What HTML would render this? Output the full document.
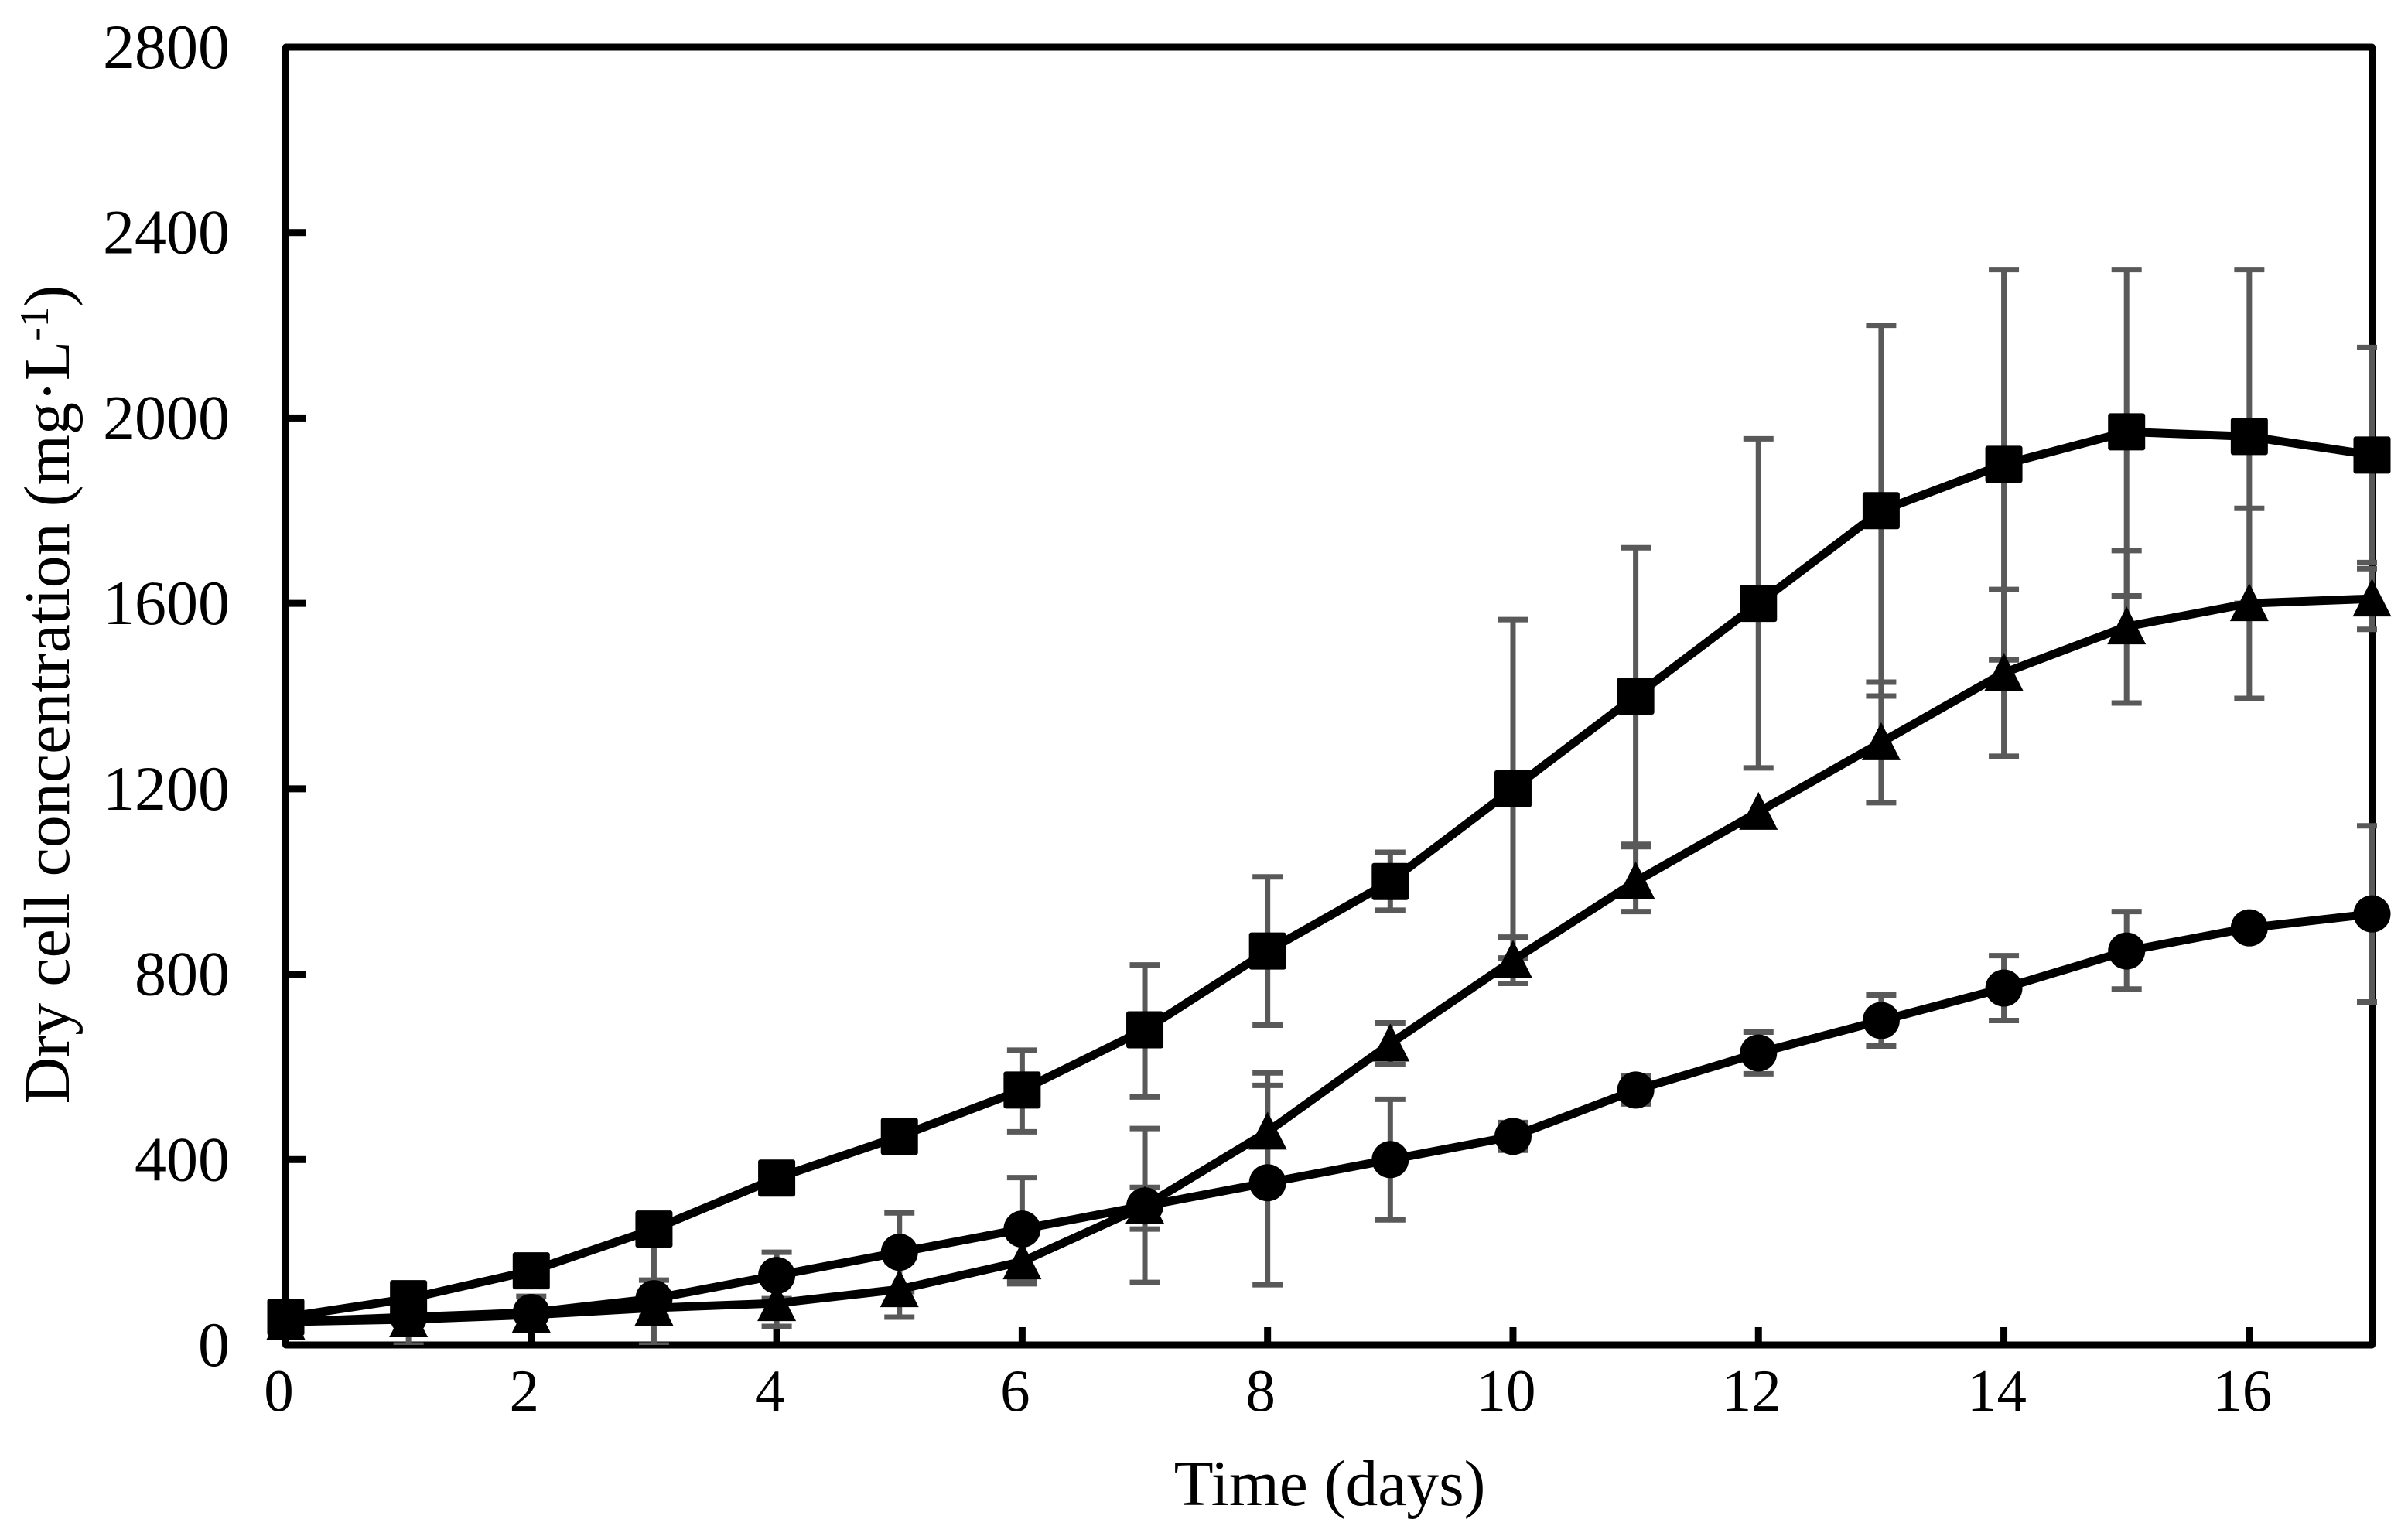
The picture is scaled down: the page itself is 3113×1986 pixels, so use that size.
<!DOCTYPE html>
<html>
<head>
<meta charset="utf-8">
<title>Dry cell concentration over time</title>
<style>
html,body{margin:0;padding:0;background:#fff;}
svg{display:block;}
text{font-family:"Liberation Serif","Times New Roman",serif;fill:#000;}
</style>
</head>
<body>
<svg id="chart" xmlns="http://www.w3.org/2000/svg" width="3113" height="1986" viewBox="0 0 3113 1986">
  <defs>
    <clipPath id="plot-clip"><rect x="300" y="0" width="2773" height="1739"/></clipPath>
  </defs>
  <rect x="0" y="0" width="3113" height="1986" fill="#fff"/>
  <rect x="369.5" y="61" width="2697" height="1678" fill="none" stroke="#000" stroke-width="9" stroke-linejoin="round"/>
  <g id="ticks"></g>
  <g id="tick-labels"></g>
  <g id="errors" clip-path="url(#plot-clip)"></g>
  <g id="series"></g>
  <text x="1719" y="1946" font-size="83.5" text-anchor="middle">Time (days)</text>
  <text transform="translate(89,898) rotate(-90)" font-size="84" text-anchor="middle">Dry cell concentration (mg·L<tspan font-size="53" dy="-27">-1</tspan><tspan dy="27">)</tspan></text>
</svg>
<script>
var days = [0,1,2,3,4,5,6,7,8,9,10,11,12,13,14,15,16,17];
var xTickLabels = [0,2,4,6,8,10,12,14,16];
var yTickLabels = [0,400,800,1200,1600,2000,2400,2800];

var squareValues = [60,100,160,250,360,450,550,680,850,1000,1200,1400,1600,1800,1900,1970,1960,1920];
var squareHigh = [60,100,160,250,360,450,636,820,1010,1063,1565,1720,1955,2200,2320,2320,2320,2152];
var squareLow = [60,0,160,0,360,450,460,535,690,938,835,1080,1245,1400,1478,1616,1600,1688];

var triangleValues = [50,55,65,80,90,120,180,300,460,650,830,1000,1150,1300,1450,1550,1600,1610];
var triangleHigh = [50,55,65,80,140,180,230,340,587,695,880,1075,1150,1430,1630,1714,1805,1675];
var triangleLow = [50,55,65,80,40,60,132,250,333,605,780,935,1150,1170,1270,1385,1395,1544];

var circleValues = [50,60,70,100,150,200,250,300,350,400,450,550,630,700,770,850,900,930];
var circleHigh = [50,60,105,140,200,285,361,467,560,530,480,580,675,755,840,935,900,1120];
var circleLow = [50,60,35,60,100,115,140,135,130,270,420,520,585,645,700,768,900,740];

var SVGNS = 'http://www.w3.org/2000/svg';
var xDomainMax = 17, yDomainMax = 2800;
var plotLeft = 369.5, plotRight = 3066.5, plotTop = 61, plotBottom = 1739;
function xScale(v){ return plotLeft + (v / xDomainMax) * (plotRight - plotLeft); }
function yScale(v){ return plotBottom - (v / yDomainMax) * (plotBottom - plotTop); }
function make(tag, attrs){
  var el = document.createElementNS(SVGNS, tag);
  for (var k in attrs) el.setAttribute(k, attrs[k]);
  return el;
}
var ticksG = document.getElementById('ticks');
var labelsG = document.getElementById('tick-labels');
var errorsG = document.getElementById('errors');
var seriesG = document.getElementById('series');

xTickLabels.forEach(function(v){
  var x = xScale(v);
  var t = make('rect', {x: x - 4.5, y: plotBottom - 23, width: 9, height: 23, fill: '#000'});
  
  
  ticksG.appendChild(t);
  var l = make('text', {x: x - 9, y: 1824, 'font-size': 77, 'text-anchor': 'middle'});
  l.textContent = String(v);
  
  
  labelsG.appendChild(l);
});
yTickLabels.forEach(function(v){
  var y = yScale(v);
  var t = make('rect', {x: plotLeft, y: y - 4.5, width: 26, height: 9, fill: '#000'});
  
  
  ticksG.appendChild(t);
  var l = make('text', {x: 297, y: y + 27, 'font-size': 82, 'text-anchor': 'end'});
  l.textContent = String(v);
  
  
  labelsG.appendChild(l);
});

function drawErrors(name, high, low){
  days.forEach(function(d, i){
    if (high[i] === low[i]) return;
    var x = xScale(d), yh = yScale(high[i]), yl = yScale(low[i]);
    var g = make('g', {stroke: '#595959', 'stroke-width': 7, fill: 'none'});
    
    
    g.appendChild(make('line', {x1: x, x2: x, y1: yh, y2: yl}));
    g.appendChild(make('line', {x1: x - 19.5, x2: x + 19.5, y1: yh, y2: yh}));
    g.appendChild(make('line', {x1: x - 19.5, x2: x + 19.5, y1: yl, y2: yl}));
    errorsG.appendChild(g);
  });
}
function drawLine(name, values){
  var pts = days.map(function(d, i){ return xScale(d) + ',' + yScale(values[i]); }).join(' ');
  var p = make('polyline', {points: pts, fill: 'none', stroke: '#000', 'stroke-width': 11, 'stroke-linejoin': 'round'});
  
  
  seriesG.appendChild(p);
}
function drawMarkers(name, values, shape){
  days.forEach(function(d, i){
    var x = xScale(d), y = yScale(values[i]), m;
    if (shape === 'square') {
      m = make('rect', {x: x - 24, y: y - 24, width: 48, height: 48, rx: 3, fill: '#000'});
    } else if (shape === 'circle') {
      m = make('circle', {cx: x, cy: y, r: 24, fill: '#000'});
    } else {
      m = make('polygon', {points: x + ',' + (y - 26) + ' ' + (x + 25) + ',' + (y + 23) + ' ' + (x - 25) + ',' + (y + 23), fill: '#000'});
    }
    
    
    seriesG.appendChild(m);
  });
}
drawErrors('square', squareHigh, squareLow);
drawErrors('triangle', triangleHigh, triangleLow);
drawErrors('circle', circleHigh, circleLow);
drawLine('circle', circleValues);
drawLine('triangle', triangleValues);
drawLine('square', squareValues);
drawMarkers('circle', circleValues, 'circle');
drawMarkers('triangle', triangleValues, 'triangle');
drawMarkers('square', squareValues, 'square');
</script>
</body>
</html>
